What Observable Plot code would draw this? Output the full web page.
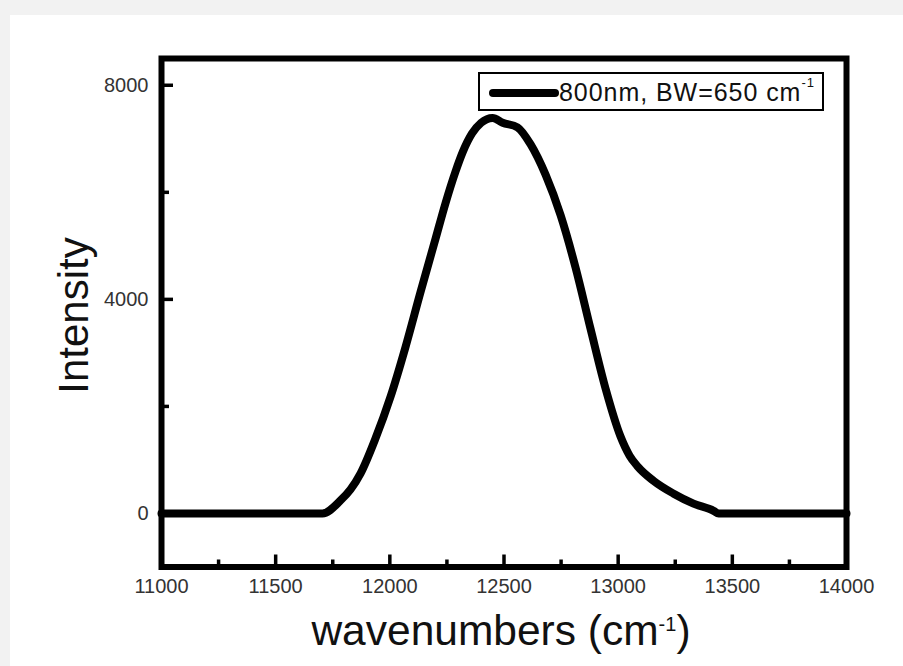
<!DOCTYPE html>
<html>
<head>
<meta charset="utf-8">
<script src="https://cdn.jsdelivr.net/npm/d3@7"></script>
<script src="https://cdn.jsdelivr.net/npm/@observablehq/plot@0.6"></script>
<style>
  html, body { margin: 0; padding: 0; background: #f2f2f2; width: 903px; height: 666px; overflow: hidden; }
  #sheet { position: absolute; left: 10px; top: 15px; right: 0; bottom: 0; background: #ffffff; }
  #chart { position: absolute; left: 0; top: 0; }
</style>
</head>
<body>
<div id="sheet"></div>
<div id="chart"></div>
<script>
// Spectrum of the 800 nm pulse: wavenumber (cm^-1) and measured intensity
const wavenumbers = [11000, 11705, 11784, 11828, 11872, 11937, 12003, 12068, 12134, 12200, 12244, 12287, 12320, 12360, 12400, 12450, 12494, 12559, 12616, 12682, 12748, 12813, 12879, 12945, 13010, 13050, 13085, 13155, 13243, 13330, 13418, 13440, 14000];
const intensity   = [0,     0,     243,   450,   750,   1400,  2180,  3100,  4130,  5130,  5800,  6380,  6760,  7100,  7300,  7390,  7300,  7214,  6900,  6330,  5570,  4600,  3450,  2330,  1442,  1080,  880,   610,   370,   185,   50,    0,     0];

// Axis ticks
const xMajorTicks = [11000, 11500, 12000, 12500, 13000, 13500, 14000];
const xMinorTicks = [11250, 11750, 12250, 12750, 13250, 13750];
const yMajorTicks = [0, 4000, 8000];
const yMinorTicks = [2000, 6000];

// Texts
const xTitle = "wavenumbers (cm";
const yTitle = "Intensity";
const legendText = "800nm, BW=650 cm";
const superscript = "-1";

const spectrum = wavenumbers.map((w, i) => ({w, v: intensity[i]}));

const W = 903, H = 666;
const margin = {left: 161, right: 57, top: 58, bottom: 99.5};
const frameW = W - margin.left - margin.right;
const frameH = H - margin.top - margin.bottom;
const font = "'Liberation Sans', Arial, sans-serif";

const plot = Plot.plot({
  width: W,
  height: H,
  marginLeft: margin.left,
  marginRight: margin.right,
  marginTop: margin.top,
  marginBottom: margin.bottom,
  style: {background: "transparent", fontFamily: font, overflow: "visible", color: "#222"},
  x: {domain: [11000, 14000]},
  y: {domain: [-1000, 8500]},
  marks: [
    Plot.axisX(xMajorTicks, {tickSize: 0, tickPadding: 12, fontSize: 20, tickFormat: d3.format("d"), fill: "#333", label: null}),
    Plot.axisY(yMajorTicks, {tickSize: 0, tickPadding: 13, fontSize: 20, tickFormat: d3.format("d"), fill: "#333", label: null}),
    // inward ticks on the bottom and left edges
    Plot.tickX(xMajorTicks.slice(1, -1), {x: d => d, insetTop: frameH - 12, stroke: "#000", strokeWidth: 3.5}),
    Plot.tickX(xMinorTicks, {x: d => d, insetTop: frameH - 7, stroke: "#000", strokeWidth: 3.5}),
    Plot.tickY(yMajorTicks, {y: d => d, insetRight: frameW - 12, stroke: "#000", strokeWidth: 3.5}),
    Plot.tickY(yMinorTicks, {y: d => d, insetRight: frameW - 8, stroke: "#000", strokeWidth: 3.5}),
    Plot.line(spectrum, {x: "w", y: "v", stroke: "#000", strokeWidth: 8, curve: "monotone-x", strokeLinejoin: "round"}),
    Plot.frame({stroke: "#000", strokeWidth: 6})
  ]
});

document.getElementById("chart").appendChild(plot);

const svg = d3.select(plot);

// x title with superscript
const xt = svg.append("text")
  .attr("x", 501).attr("y", 645)
  .attr("text-anchor", "middle")
  .attr("font-family", font).attr("font-size", 42.5).attr("fill", "#111");
xt.append("tspan").text(xTitle);
xt.append("tspan").attr("font-size", 20).attr("dy", -14).text(superscript);
xt.append("tspan").attr("dy", 14).text(")");

// y title
svg.append("text")
  .attr("transform", "translate(88,315.5) rotate(-90)")
  .attr("text-anchor", "middle")
  .attr("font-family", font).attr("font-size", 42).attr("fill", "#111")
  .text(yTitle);

// legend
const lg = svg.append("g");
lg.append("rect")
  .attr("x", 479).attr("y", 73).attr("width", 344).attr("height", 37)
  .attr("fill", "#fff").attr("stroke", "#000").attr("stroke-width", 2);
lg.append("line")
  .attr("x1", 493).attr("x2", 555).attr("y1", 93).attr("y2", 93)
  .attr("stroke", "#000").attr("stroke-width", 8).attr("stroke-linecap", "round");
const lt = lg.append("text")
  .attr("x", 559).attr("y", 101)
  .attr("text-anchor", "start")
  .attr("font-family", font).attr("font-size", 25).attr("letter-spacing", 0.95).attr("fill", "#111");
lt.append("tspan").text(legendText);
lt.append("tspan").attr("font-size", 13).attr("dy", -14).text(superscript);
</script>
</body>
</html>
